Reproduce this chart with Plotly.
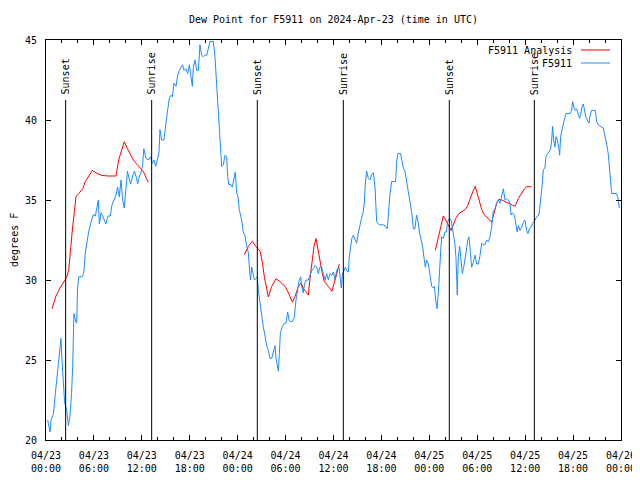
import pandas as pd
import plotly.graph_objects as go

# ---------------- data ----------------
base_time = "2024-04-23 00:00"

obs_hours = [0.21, 0.5, 0.63, 0.92, 1.17, 1.38, 1.59, 1.75, 1.88, 2.0, 2.17, 2.34, 2.59, 2.8, 3.0, 3.2, 3.34,
             3.5, 3.67, 3.84, 3.96, 4.09, 4.5, 4.72, 4.92, 5.09, 5.34, 5.63, 5.93, 6.18, 6.34, 6.55, 6.68,
             6.89, 7.1, 7.3, 7.5, 7.76, 8.05, 8.26, 8.56, 8.76, 8.97, 9.18, 9.39, 9.6, 9.8, 10.0, 10.2,
             10.4, 10.6, 10.85, 11.06, 11.27, 11.48, 11.7, 11.9, 12.1, 12.25, 12.52, 12.81, 13.1, 13.27,
             13.52, 13.73, 13.94, 14.15, 14.27, 14.48, 14.77, 15.0, 15.2, 15.44, 15.65, 15.82, 16.03,
             16.28, 16.49, 16.7, 16.9, 17.1, 17.28, 17.53, 17.74, 17.95, 18.16, 18.32, 18.45, 18.66,
             18.87, 19.07, 19.28, 19.49, 19.7, 19.91, 20.12, 20.33, 20.53, 20.95, 21.16, 21.37, 21.58,
             21.79, 22.0, 22.2, 22.41, 22.62, 22.75, 22.9, 23.1, 23.33, 23.54, 23.7, 23.87, 24.04, 24.2,
             24.5, 24.7, 24.9, 25.1, 25.34, 25.46, 25.6, 25.76, 25.9, 26.1, 26.3, 26.47, 26.6, 26.8,
             27.0, 27.2, 27.43, 27.63, 27.84, 28.05, 28.26, 28.47, 28.68, 28.8, 28.97, 29.1, 29.22,
             29.35, 29.6, 29.85, 30.05, 30.26, 30.43, 30.6, 30.85, 31.1, 31.3, 31.5, 31.7, 31.9, 32.0,
             32.2, 32.4, 32.6, 32.85, 33.06, 33.27, 33.5, 33.7, 33.9, 34.1, 34.3, 34.5, 34.73, 34.94,
             35.15, 35.36, 35.56, 35.77, 35.98, 36.2, 36.31, 36.48, 36.69, 36.81, 36.98, 37.1, 37.3,
             37.48, 37.65, 37.86, 37.98, 38.15, 38.3, 38.48, 38.69, 38.9, 39.1, 39.3, 39.5, 39.7,
             39.86, 39.98, 40.15, 40.36, 40.57, 40.78, 41.0, 41.2, 41.4, 41.6, 41.8, 42.24, 42.57,
             42.74, 42.9, 43.07, 43.28, 43.78, 43.9, 44.07, 44.4, 44.57, 44.74, 44.95, 45.16, 45.37,
             45.58, 45.8, 46.0, 46.2, 46.4, 46.6, 46.75, 46.96, 47.16, 47.37, 47.5, 47.66, 47.87,
             48.0, 48.17, 48.3, 48.5, 48.63, 48.8, 48.96, 49.13, 49.25, 49.42, 49.55, 49.75, 49.96,
             50.13, 50.3, 50.5, 50.72, 50.88, 51.05, 51.2, 51.34, 51.5, 51.63, 51.8, 51.97, 52.13,
             52.3, 52.47, 52.6, 52.8, 52.97, 53.14, 53.3, 53.5, 53.72, 53.93, 54.14, 54.35, 54.56,
             54.76, 54.97, 55.18, 55.39, 55.6, 55.8, 56.0, 56.2, 56.43, 56.64, 56.85, 57.06, 57.27,
             57.48, 57.7, 57.9, 58.1, 58.23, 58.4, 58.65, 58.8, 59.0, 59.15, 59.36, 59.57, 59.8,
             59.98, 60.18, 60.35, 60.52, 60.73, 60.94, 61.14, 61.44, 61.73, 61.94, 62.1, 62.27,
             62.48, 62.6, 62.77, 62.98, 63.19, 63.32, 63.44, 63.57, 63.73, 63.86, 64.02, 64.19,
             64.32, 64.44, 64.61, 64.78, 64.94, 65.1, 65.6, 65.82, 65.95, 66.1, 66.28, 66.45, 66.6,
             66.8, 66.95, 67.1, 67.28, 67.45, 67.6, 67.78, 68.0, 68.1, 68.3, 68.78, 68.95, 69.16,
             69.37, 69.57, 69.78, 70.0, 70.2, 70.4, 70.54, 70.7, 70.83, 71.45, 71.62, 71.79]

obs_values = [21.25, 20.5, 21.25, 21.6, 22.9, 24.0, 25.0, 25.8, 26.35, 25.0, 23.5, 22.3, 21.9, 20.9, 21.5, 22.9, 24.6,
              27.9, 27.5, 27.3, 29.5, 30.2, 30.2, 30.4, 31.7, 32.3, 33.0, 33.6, 34.1, 34.0, 34.5, 35.0, 33.5,
              34.2, 34.0, 33.75, 33.5, 34.0, 34.0, 34.7, 35.1, 35.3, 35.8, 35.2, 36.25, 35.0, 34.5, 36.0, 36.8,
              36.35, 36.0, 36.5, 36.8, 36.5, 36.0, 36.5, 36.7, 37.2, 38.2, 37.6, 37.5, 37.7, 37.3,
              37.5, 37.1, 37.5, 38.0, 39.4, 38.75, 38.75, 39.8, 40.5, 41.35, 41.55, 41.45, 42.3,
              42.1, 42.8, 43.1, 43.3, 43.45, 43.1, 43.2, 42.9, 43.45, 42.7, 42.1, 43.3, 43.75,
              43.1, 43.1, 44.7, 44.05, 43.95, 44.05, 44.05, 44.5, 44.9, 44.9, 43.95, 42.2, 40.4,
              38.2, 37.1, 37.2, 37.8, 37.7, 36.45, 35.95, 36.0, 35.8, 36.35, 36.75, 35.5, 35.2, 34.4,
              33.75, 33.0, 32.8, 32.2, 31.7, 30.8, 30.0, 30.8, 30.4, 30.0, 30.1, 30.2, 29.3, 28.5,
              27.7, 27.1, 26.5, 25.9, 25.6, 25.1, 25.1, 25.6, 25.9, 25.1, 24.5, 24.3, 25.4,
              26.7, 27.1, 27.3, 27.3, 28.0, 27.5, 27.4, 27.4, 27.7, 28.75, 29.5, 30.0, 30.2, 29.6,
              29.2, 29.8, 30.0, 30.0, 30.3, 30.6, 30.7, 30.9, 30.8, 30.4, 30.8, 30.8, 30.4, 30.0,
              30.4, 30.0, 30.4, 30.3, 30.5, 30.0, 30.4, 30.7, 30.8, 30.2, 29.5, 30.3, 30.6,
              30.8, 30.6, 30.5, 31.45, 32.3, 32.6, 32.8, 32.5, 32.3, 32.9, 33.5, 33.85, 34.2,
              34.8, 36.0, 36.8, 36.35, 36.25, 36.6, 36.7, 35.8, 33.65, 33.5, 33.45, 33.45, 33.35,
              33.2, 34.6, 35.4, 36.15, 36.15, 37.4, 37.9, 37.9, 37.5, 37.0, 36.8, 36.15, 35.5,
              34.8, 34.2, 33.2, 33.2, 34.06, 33.65, 33.0, 32.5, 32.1, 31.25, 30.8, 31.25, 31.0,
              30.6, 30.1, 29.6, 29.5, 29.6, 28.75, 28.2, 29.2, 30.6, 31.8, 32.7, 32.6, 33.0,
              33.0, 33.65, 33.85, 33.75, 33.3, 32.9, 32.3, 31.35, 29.06, 31.45, 32.1, 31.25, 30.4,
              30.8, 31.25, 31.7, 32.5, 32.7, 31.7, 30.8, 31.1, 31.55, 31.0, 31.0, 31.55, 32.3,
              32.2, 32.2, 32.5, 32.4, 32.7, 33.3, 34.3, 34.4, 34.8, 35.0, 34.8, 35.2, 35.7,
              35.0, 35.1, 35.0, 34.8, 34.06, 34.2, 34.06, 33.65, 33.0, 33.4, 33.1, 33.3, 33.65,
              33.75, 33.1, 32.9, 33.2, 33.3, 33.55, 33.65, 33.95, 34.06, 35.0, 35.8, 36.9,
              37.0, 37.7, 37.9, 38.0, 38.2, 38.75, 39.6, 38.75, 38.3, 38.96, 38.75, 38.3,
              37.8, 38.96, 39.4, 39.6, 40.1, 40.4, 40.4, 40.6, 41.15, 40.8, 40.6, 40.7, 40.5,
              40.1, 40.3, 40.8, 41.0, 40.5, 40.2, 40.0, 39.8, 40.2, 40.6, 40.6, 39.9, 39.7,
              39.6, 39.55, 39.5, 39.06, 38.5, 37.9, 37.0, 36.0, 35.4, 35.4, 35.1, 34.5]

# analysis series: None marks the gaps between its three runs
ana_hours = [0.75, 1.25, 1.75, 2.3, 2.59, 2.84, 3.05, 3.26, 3.5, 3.76, 4.09, 4.6, 4.92, 5.3, 5.8, 6.26,
             6.89, 7.72, 8.76, 9.1, 9.5, 9.8, 10.2, 10.6, 10.94, 11.27, 11.77, 12.2, 12.81,
             18.0,
             24.84, 25.34, 25.84, 26.26, 26.8, 27.1, 27.34, 27.63, 27.84, 28.26, 28.8, 29.3, 29.93,
             30.35, 30.85, 31.18, 31.6, 31.95, 32.2, 32.64, 32.85, 33.06, 33.27, 33.56, 33.81, 34.0,
             34.3, 34.6, 34.86, 35.36, 35.8, 36.2, 36.48, 36.73,
             42.0,
             48.75, 49.13, 49.46, 49.75, 50.05, 50.38, 50.72, 51.0, 51.3, 51.7, 52.05, 52.47, 52.76,
             53.1, 53.43, 53.75, 54.0, 54.26, 54.56, 54.89, 55.39, 55.8, 56.1, 56.43, 56.7, 57.06,
             57.48, 57.9, 58.4, 58.73, 59.15, 59.57, 59.9, 60.18, 60.8]
ana_values = [28.2, 29.0, 29.5, 30.0, 30.17, 30.6, 31.9, 32.9, 34.06, 35.2, 35.4, 35.7, 36.15, 36.45, 36.85, 36.7,
              36.55, 36.5, 36.5, 37.5, 38.1, 38.65, 38.2, 37.8, 37.5, 37.3, 37.0, 36.77, 36.1,
              None,
              31.58, 32.1, 32.42, 32.1, 31.8, 31.1, 30.2, 29.4, 28.94, 29.6, 30.08, 29.9, 29.6,
              29.2, 28.62, 28.96, 29.6, 29.82, 29.5, 29.2, 29.06, 30.1, 31.0, 32.1, 32.6, 31.98,
              31.25, 30.4, 29.9, 29.6, 29.3, 30.0, 30.6, 31.0,
              None,
              31.85, 32.7, 33.5, 34.0, 33.75, 33.44, 33.1, 33.44, 33.85, 34.15, 34.27, 34.4, 34.6,
              35.1, 35.5, 35.85, 35.4, 34.8, 34.4, 34.06, 33.85, 33.6, 34.2, 34.8, 35.04, 35.0,
              34.9, 34.8, 34.7, 34.6, 35.1, 35.46, 35.7, 35.83, 35.83]

sun_hours = [2.46, 13.23, 26.46, 37.23, 50.5, 61.15]
sun_labels = ["Sunset", "Sunrise", "Sunset", "Sunrise", "Sunset", "Sunrise"]

series_names = ["F5911 Analysis", "F5911"]
series_colors = ["#ff0000", "#1e8cff"]

title_text = "Dew Point for F5911 on 2024-Apr-23 (time in UTC)"
y_label = "degrees F"

# ---------------- figure ----------------
t0 = pd.Timestamp(base_time)


def to_times(hours):
    return [(t0 + pd.Timedelta(hours=h)).strftime("%Y-%m-%d %H:%M:%S") for h in hours]


FONT = "DejaVu Sans Mono"
# the page body adds an 8px margin; size the figure to fit the 640x480 window
FIG_W, FIG_H = 632, 472

fig = go.Figure()
fig.add_trace(go.Scatter(x=to_times(ana_hours), y=ana_values, mode="lines",
                         line=dict(color=series_colors[0], width=1), name=series_names[0],
                         connectgaps=False))
fig.add_trace(go.Scatter(x=to_times(obs_hours), y=obs_values, mode="lines",
                         line=dict(color=series_colors[1], width=1), name=series_names[1]))

sun_times = to_times(sun_hours)
shapes = []
annotations = []
for t, lab in zip(sun_times, sun_labels):
    shapes.append(dict(type="line", xref="x", yref="y", x0=t, x1=t, y0=20, y1=41.25,
                       line=dict(color="black", width=1)))
    annotations.append(dict(x=t, y=41.45, xref="x", yref="y", text=lab, textangle=-90,
                            showarrow=False, xanchor="center", yanchor="bottom",
                            font=dict(family=FONT, size=10, color="black")))

# gnuplot-style key: text then a line sample, top right
key_rows = [0.975, 0.9425]
for name, col, yy in zip(series_names, series_colors, key_rows):
    annotations.append(dict(x=0.9183, y=yy, xref="paper", yref="paper", text=name,
                            showarrow=False, xanchor="right", yanchor="middle",
                            font=dict(family=FONT, size=10, color="black")))
    shapes.append(dict(type="line", xref="paper", yref="paper", x0=0.9304, x1=0.9809,
                       y0=yy, y1=yy, line=dict(color=col, width=1)))

annotations.append(dict(x=-0.0557, y=0.5, xref="paper", yref="paper", text=y_label,
                        textangle=-90, showarrow=False, xanchor="center", yanchor="middle",
                        font=dict(family=FONT, size=10, color="black")))

fig.update_layout(
    width=FIG_W, height=FIG_H,
    margin=dict(l=38, r=19, t=32, b=40, autoexpand=False),
    paper_bgcolor="white", plot_bgcolor="white",
    font=dict(family=FONT, size=10, color="black"),
    title=dict(text=title_text, x=0.5, xref="paper", xanchor="center",
               y=1 - 11 / FIG_H, yref="container", yanchor="middle",
               font=dict(family=FONT, size=10, color="black")),
    showlegend=False,
    shapes=shapes,
    annotations=annotations,
)

fig.update_xaxes(
    type="date", automargin=False,
    range=[to_times([0])[0], to_times([72])[0]],
    tick0=to_times([0])[0], dtick=6 * 3600 * 1000,
    tickformat="%m/%d<br>%H:%M",
    ticks="inside", ticklen=5, tickcolor="black", tickwidth=1,
    minor=dict(ticks="inside", ticklen=3, dtick=2 * 3600 * 1000, tickcolor="black", showgrid=False),
    showline=True, linecolor="black", linewidth=1, mirror="ticks",
    showgrid=False, zeroline=False,
    ticklabelstandoff=6,
)
fig.update_yaxes(
    range=[20, 45], dtick=5, tick0=20, automargin=False,
    ticks="inside", ticklen=5, tickcolor="black", tickwidth=1,
    showline=True, linecolor="black", linewidth=1, mirror="ticks",
    showgrid=False, zeroline=False,
    ticklabelstandoff=6,
)

fig.write_html("out.html")
